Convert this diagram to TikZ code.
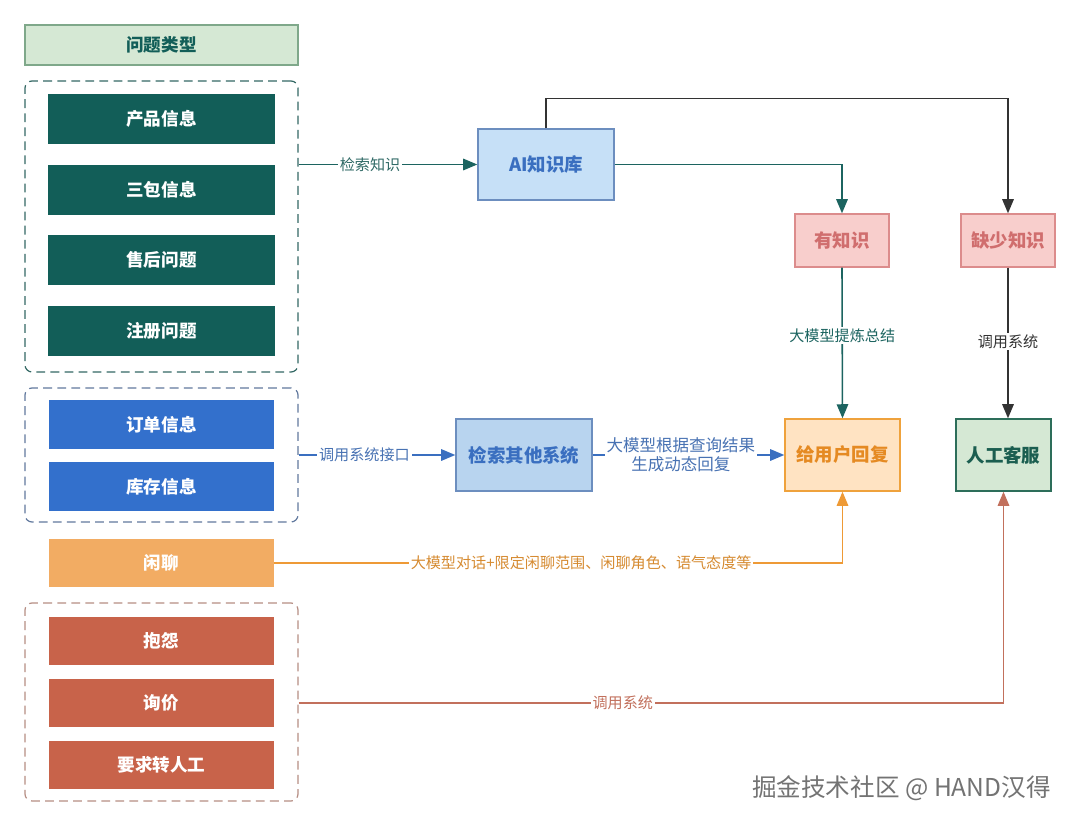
\documentclass[tikz,border=0pt]{standalone}
\usepackage{fontspec}
\setmainfont{Noto Sans CJK SC}
\usetikzlibrary{arrows.meta,calc}
\definecolor{tealbox}{HTML}{125E58}
\definecolor{bluebox}{HTML}{3370CC}
\definecolor{orangebox}{HTML}{F2AC63}
\definecolor{redbox}{HTML}{C8634A}
\definecolor{hdrfill}{HTML}{D5E8D4}
\definecolor{hdrdraw}{HTML}{7FA88A}
\definecolor{lbfill}{HTML}{C6E0F7}
\definecolor{lbdraw}{HTML}{6C8EBF}
\definecolor{lbtext}{HTML}{3A6FC0}
\definecolor{pkfill}{HTML}{F8CECC}
\definecolor{pkdraw}{HTML}{DC8C8C}
\definecolor{pktext}{HTML}{D06E6E}
\definecolor{orfill}{HTML}{FFE3C2}
\definecolor{ordraw}{HTML}{EFA23C}
\definecolor{ortext}{HTML}{E58A22}
\definecolor{gnfill}{HTML}{D5E8D4}
\definecolor{gndraw}{HTML}{2D6E5A}
\definecolor{gntext}{HTML}{1B5E50}
\definecolor{tealline}{HTML}{1C6460}
\definecolor{blueline}{HTML}{3A6FC0}
\definecolor{orline}{HTML}{EE9A36}
\definecolor{redline}{HTML}{C2705C}
\definecolor{darkline}{HTML}{333333}
\tikzset{
  x=0.02cm, y=-0.02cm,
  bx/.style n args={4}{rectangle, inner sep=0pt, minimum width={(#3-#1)*0.02cm}, minimum height={(#4-#2)*0.02cm}},
  solidbox/.style={font=\bfseries\fontsize{10}{12}\selectfont, text=white},
  grp/.style={draw, dashed, dash pattern=on 5pt off 3pt, rounded corners=4pt, line width=0.7pt},
  lbl/.style={fill=white, inner sep=1pt, font=\fontsize{8.6}{10}\selectfont},
  arr/.style={line width=0.9pt, -{Triangle[length=8pt,width=6.5pt]}},
  procbox/.style={draw, line width=0.8pt, font=\bfseries\fontsize{10.5}{12}\selectfont}
}
\begin{document}
\begin{tikzpicture}
\useasboundingbox[fill=white] (0,0) rectangle (1080,825);
% header
\node[bx={25}{25}{298}{65}, fill=hdrfill, draw=hdrdraw, line width=0.8pt, text=tealbox, font=\bfseries\fontsize{10}{12}\selectfont] (hdr) at ({(25+298)/2},{(25+65)/2}) {问题类型};
% groups
\node[bx={25}{81}{298}{372}, grp, draw=tealbox!70!gray] (g1) at ({(25+298)/2},{(81+372)/2}) {};
\node[bx={25}{388}{298}{522}, grp, draw=bluebox!40!gray] (g2) at ({(25+298)/2},{(388+522)/2}) {};
\node[bx={25}{603}{298}{801}, grp, draw=redbox!50!gray!80] (g3) at ({(25+298)/2},{(603+801)/2}) {};
% teal boxes
\node[bx={48}{94}{275}{144}, fill=tealbox, solidbox] (p1) at ({(48+275)/2},{(94+144)/2}) {产品信息};
\node[bx={48}{165}{275}{215}, fill=tealbox, solidbox] (p2) at ({(48+275)/2},{(165+215)/2}) {三包信息};
\node[bx={48}{235}{275}{285}, fill=tealbox, solidbox] (p3) at ({(48+275)/2},{(235+285)/2}) {售后问题};
\node[bx={48}{306}{275}{356}, fill=tealbox, solidbox] (p4) at ({(48+275)/2},{(306+356)/2}) {注册问题};
% blue boxes
\node[bx={49}{400}{274}{449}, fill=bluebox, solidbox] (b1) at ({(49+274)/2},{(400+449)/2}) {订单信息};
\node[bx={49}{462}{274}{511}, fill=bluebox, solidbox] (b2) at ({(49+274)/2},{(462+511)/2}) {库存信息};
% chat
\node[bx={49}{539}{274}{587}, fill=orangebox, solidbox] (chat) at ({(49+274)/2},{(539+587)/2}) {闲聊};
% red boxes
\node[bx={49}{617}{274}{665}, fill=redbox, solidbox] (r1) at ({(49+274)/2},{(617+665)/2}) {抱怨};
\node[bx={49}{679}{274}{727}, fill=redbox, solidbox] (r2) at ({(49+274)/2},{(679+727)/2}) {询价};
\node[bx={49}{741}{274}{789}, fill=redbox, solidbox] (r3) at ({(49+274)/2},{(741+789)/2}) {要求转人工};
% process boxes
\node[bx={478}{129}{614}{200}, procbox, fill=lbfill, draw=lbdraw, text=lbtext] (ai) at ({(478+614)/2},{(129+200)/2}) {AI知识库};
\node[bx={456}{419}{592}{491}, procbox, fill=lbfill!85!lbdraw, draw=lbdraw, text=lbtext] (other) at ({(456+592)/2},{(419+491)/2}) {检索其他系统};
\node[bx={795}{214}{889}{267}, procbox, fill=pkfill, draw=pkdraw, text=pktext] (yes) at ({(795+889)/2},{(214+267)/2}) {有知识};
\node[bx={961}{214}{1055}{267}, procbox, fill=pkfill, draw=pkdraw, text=pktext] (lack) at ({(961+1055)/2},{(214+267)/2}) {缺少知识};
\node[bx={785}{419}{900}{491}, procbox, fill=orfill, draw=ordraw, text=ortext] (reply) at ({(785+900)/2},{(419+491)/2}) {给用户回复};
\node[bx={956}{419}{1051}{491}, procbox, fill=gnfill, draw=gndraw, text=gntext] (human) at ({(956+1051)/2},{(419+491)/2}) {人工客服};
% connectors
\draw[arr, tealline] (g1.east |- ai.west) -- node[lbl, text=tealline!80!gray, pos=0.4] {检索知识} (ai.west);
\draw[arr, tealline] (ai.east) -| (yes.north);
\draw[arr, darkline] (ai.north) |- ($(lack.north)+(0,-115)$) -- (lack.north);
\draw[arr, tealline] (yes.south) -- node[lbl, text=tealline, pos=0.45] {大模型提炼总结} (reply.north);
\draw[arr, darkline] (lack.south) -- node[lbl, text=darkline, pos=0.49] {调用系统} (lack.south |- human.north);
\draw[arr, blueline] (g2.east |- other.west) -- node[lbl, text=blueline!80!gray, pos=0.42] {调用系统接口} (other.west);
\draw[arr, blueline] (other.east) -- node[lbl, text=blueline!80!gray, align=center, pos=0.46, font=\fontsize{9.4}{11}\selectfont] {大模型根据查询结果\\生成动态回复} (reply.west);
\draw[arr, orline] (chat.east) -| node[lbl, text=orline!90!black, pos=0.27] {大模型对话+限定闲聊范围、闲聊角色、语气态度等} (reply.south);
\draw[arr, redline] (g3.east |- r2.east) -| node[lbl, text=redline, pos=0.23] {调用系统} (human.south);
% watermark
\node[text=gray!90!black, font=\fontsize{14}{16}\selectfont, anchor=east] (wm) at (1057,788) {掘金技术社区 @ HAND汉得};
\end{tikzpicture}
\end{document}
